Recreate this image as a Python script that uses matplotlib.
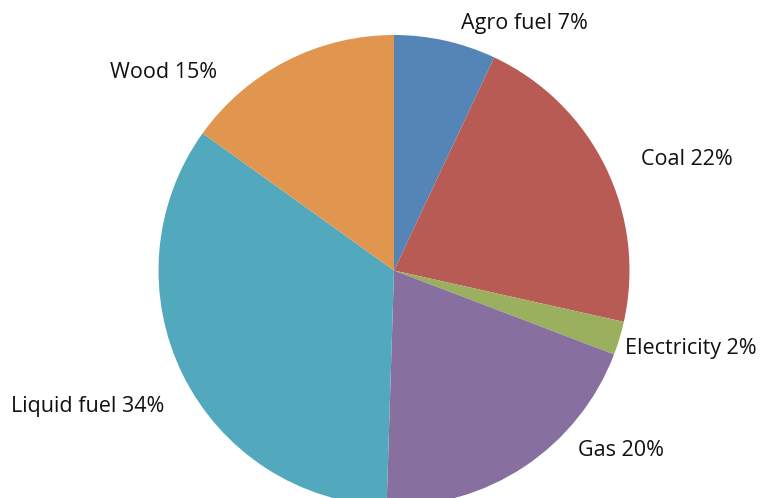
import matplotlib
matplotlib.use("Agg")
import matplotlib.pyplot as plt

categories = ["Agro fuel", "Coal", "Electricity", "Gas", "Liquid fuel", "Wood"]
values = [7.0, 21.5, 2.3, 19.7, 34.4, 15.1]
pct_labels = ["7%", "22%", "2%", "20%", "34%", "15%"]
colors = ["#5585B6", "#B95B55", "#9BB05E", "#8770A0", "#52A9BE", "#E0964E"]
# label anchor positions (left x, center y from top, in pixels)
label_pos = [(461, 23), (641, 159), (625, 348), (578, 450), (11, 406), (110, 72)]

W, H = 760, 498
fig = plt.figure(figsize=(W / 100, H / 100), dpi=100)
ax = fig.add_axes([0, 0, 1, 1])

cx, cy, r = 394, H - 270.5, 235.5
ax.pie(values, colors=colors, startangle=90, counterclock=False,
       center=(cx, cy), radius=r, frame=True,
       wedgeprops=dict(linewidth=0))
ax.set_xlim(0, W)
ax.set_ylim(0, H)
ax.set_aspect("equal")
ax.axis("off")

for cat, p, (lx, ly) in zip(categories, pct_labels, label_pos):
    ax.text(lx, H - ly, f"{cat} {p}", ha="left", va="center",
            fontsize=15.5, family=["Open Sans", "DejaVu Sans"], color="#111111")

fig.savefig("out.png", dpi=100)
